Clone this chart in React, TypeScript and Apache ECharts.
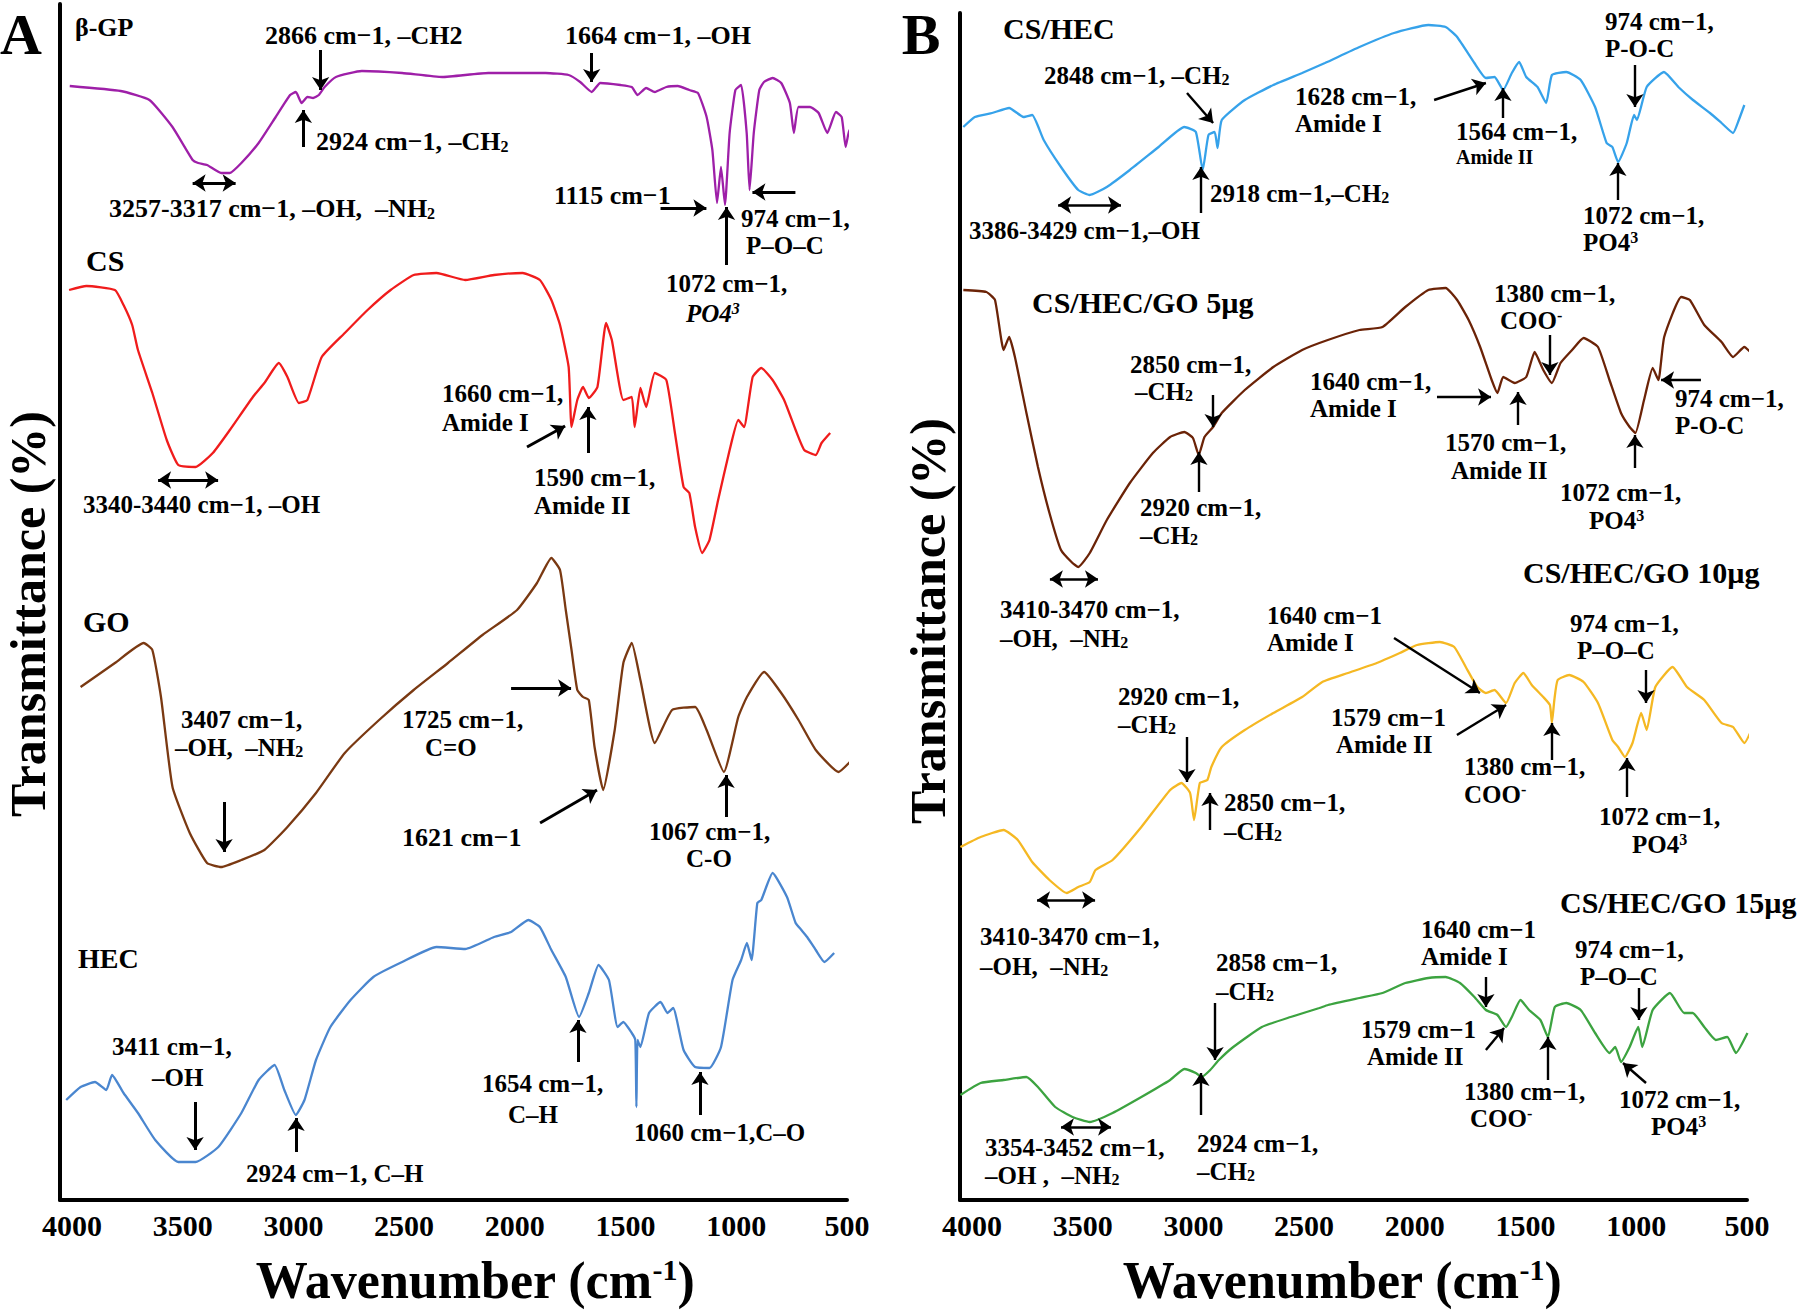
import { useEffect, useRef } from 'react';
import * as echarts from 'echarts';

const SERIF = '"Liberation Serif", "Times New Roman", "DejaVu Serif", serif';

// x: wavenumber (cm-1); y: transmittance in arbitrary offset units (stacked spectra)
const bgpWn = [4010,3780,3650,3546,3455,3430,3390,3326,3287,3235,3157,3080,3015,2989,2963,2937,2911,2885,2859,2808,2691,2509,2328,2120,1861,1757,1705,1653,1614,1523,1472,1446,1407,1368,1316,1264,1212,1173,1134,1108,1087,1069,1051,1030,1004,978,953,940,921,896,875,836,797,758,740,719,667,628,589,550,524,506,490,480,454];
const bgpT = [1114,1109,1100,1073,1040,1037,1035,1027,1027,1037,1057,1083,1105,1108,1097,1103,1102,1105,1113,1123,1129,1127,1123,1127,1127,1125,1118,1108,1117,1115,1113,1105,1112,1108,1113,1114,1110,1107,1083,1050,997,1033,995,1067,1110,1115,1067,1010,1067,1110,1118,1122,1117,1097,1067,1093,1093,1087,1067,1088,1083,1053,1070,1055,1100];

const csWn = [4013,3935,3806,3767,3728,3702,3637,3572,3520,3442,3364,3287,3183,3131,3066,3027,2975,2937,2872,2768,2665,2561,2457,2354,2224,2094,1965,1887,1835,1796,1757,1744,1718,1692,1666,1627,1588,1562,1510,1472,1459,1433,1407,1368,1316,1277,1238,1212,1186,1154,1121,1082,1030,991,965,926,887,836,784,732,693,641,615,576];
const csT = [910,914,910,895,875,850,807,760,735,733,747,770,803,817,837,823,797,800,843,867,890,910,925,927,920,925,927,920,900,875,833,773,800,813,802,813,877,860,800,803,773,812,793,827,820,767,713,707,673,647,660,700,750,780,773,823,832,820,800,770,750,745,757,767];

const goWn = [3961,3806,3676,3637,3598,3546,3468,3390,3326,3235,3131,3027,2898,2768,2613,2457,2302,2146,1990,1900,1835,1796,1770,1744,1718,1692,1666,1640,1601,1549,1510,1472,1433,1368,1290,1186,1134,1056,991,952,874,797,719,641,538,487];
const goT = [513,537,557,550,503,413,367,337,333,340,350,373,407,447,480,510,537,565,590,617,642,630,590,550,510,503,500,453,410,470,537,557,520,457,490,493,470,428,483,503,528,507,480,450,428,438];

const hecWn = [4026,3961,3896,3845,3819,3767,3702,3624,3520,3442,3339,3235,3157,3085,3041,2989,2950,2898,2833,2742,2639,2509,2354,2224,2094,2017,1939,1887,1835,1770,1710,1666,1622,1575,1536,1510,1472,1456,1451,1446,1433,1394,1342,1311,1285,1238,1186,1121,1069,1017,978,952,931,905,887,836,771,732,706,680,641,602,558];
const hecT = [100,113,118,110,125,107,87,60,38,38,53,87,120,135,110,85,100,140,173,200,223,238,253,251,263,268,280,273,250,223,183,207,235,220,173,178,167,160,93,160,153,187,198,187,192,150,133,132,153,220,240,257,240,297,300,327,303,277,270,263,250,238,247];

const cshWn = [4039,3987,3909,3832,3767,3728,3676,3598,3520,3468,3391,3287,3157,3041,2989,2958,2932,2904,2891,2872,2768,2639,2509,2406,2250,2094,1939,1861,1809,1731,1679,1640,1601,1562,1529,1497,1446,1407,1381,1316,1251,1186,1134,1108,1082,1043,1010,997,953,875,810,744,667,615,563,537,512];
const cshT = [1073,1083,1087,1092,1083,1085,1060,1033,1010,1005,1013,1030,1053,1073,1068,1030,1065,1068,1052,1080,1100,1115,1127,1137,1153,1167,1175,1173,1163,1137,1122,1123,1110,1127,1138,1123,1113,1097,1125,1128,1120,1093,1057,1053,1038,1057,1085,1080,1113,1128,1113,1100,1087,1077,1067,1080,1095];

const g5Wn = [4039,3935,3896,3857,3832,3806,3754,3702,3650,3598,3546,3520,3468,3391,3287,3183,3105,3041,3002,2976,2950,2911,2872,2768,2639,2509,2393,2250,2146,2043,1939,1861,1809,1757,1705,1653,1627,1601,1549,1497,1459,1420,1381,1342,1290,1238,1173,1121,1069,1030,1004,965,926,900,874,797,758,693,615,563,512,461,422];
const g5T = [910,908,900,850,863,843,787,733,687,650,637,633,647,680,717,747,763,768,762,745,763,773,787,810,833,850,860,870,873,893,910,912,900,880,853,820,807,823,817,823,848,830,817,837,850,862,853,820,787,773,767,800,832,820,863,903,900,875,858,843,853,843,873];

const g10Wn = [4052,3961,3857,3793,3728,3650,3572,3520,3468,3442,3365,3235,3105,3054,3015,2997,2971,2937,2919,2872,2768,2639,2509,2418,2302,2172,2068,1990,1887,1822,1770,1718,1679,1640,1588,1549,1510,1472,1420,1390,1381,1370,1355,1303,1238,1173,1108,1082,1051,1017,978,953,914,836,771,693,615,563,512,461];
const g10T = [353,363,370,360,338,320,307,313,318,330,340,373,410,417,407,380,417,420,433,453,470,487,503,518,527,537,547,555,558,553,533,513,507,510,497,517,527,515,503,495,477,500,520,525,518,497,460,453,443,457,487,470,513,533,513,500,477,473,457,480];

const g15Wn = [4052,3961,3857,3754,3702,3624,3546,3468,3365,3235,3105,3041,2989,2963,2924,2885,2820,2691,2561,2431,2392,2250,2146,2043,1939,1861,1796,1731,1679,1627,1588,1562,1523,1484,1433,1399,1368,1316,1251,1186,1121,1095,1069,1030,991,973,926,848,784,745,693,641,589,550,498];
const g15T = [105,117,120,123,113,93,83,78,87,103,120,131,127,123,130,140,153,173,183,192,195,202,207,217,222,223,217,203,190,185,173,183,200,190,180,163,193,197,190,167,147,153,138,153,173,153,190,207,187,187,173,160,163,147,167];

const wnTicks = [4000, 3500, 3000, 2500, 2000, 1500, 1000, 500];

// annotation arrows [wn1, t1, wn2, t2] in data units
const arrowsA = [
  [2877,1150,2877,1110],[1653,1147,1653,1118],[2955,1053,2955,1090],
  [1342,992,1135,992],[733,1008,927,1008],[1044,935,1044,993],
  [1945,753,1773,774],[1670,747,1670,793],
  [3313,398,3313,348],[2017,512,1746,512],[1886,377,1629,410],[1046,383,1046,425],
  [3444,98,3444,50],[2988,48,2988,82],[1715,138,1715,180],[1164,85,1164,128],
];
const doubleA = [[3455,1017,3261,1017],[3611,720,3340,720]];
const arrowsB = [
  [3029,1107,2911,1077],[2966,987,2966,1033],[1913,1100,1679,1117],[1602,1082,1602,1112],
  [1006,1135,1006,1093],[1083,1000,1083,1037],
  [2911,805,2911,773],[2975,708,2975,748],[1900,803,1656,803],[1534,775,1534,808],
  [1390,865,1390,825],[1006,732,1006,765],[708,820,888,820],
  [2094,562,1706,507],[1810,465,1588,495],[3029,463,3029,418],[2925,370,2925,407],
  [1381,440,1381,477],[956,530,956,497],[1042,403,1042,442],
  [2902,197,2902,140],[2966,85,2966,127],[1679,223,1679,193],[1679,150,1597,172],
  [1399,120,1399,163],[988,212,988,180],[956,117,1060,137],
];
const doubleB = [[3611,995,3327,995],[3648,621,3431,621],[3706,300,3444,300],[3598,73,3372,73]];

// text annotations: [x, y, text, fontSize]
const notesA: [number, number, string, number][] = [
  [75, 27, 'β-GP', 26],
  [265, 35, '2866 cm−1, –CH2', 26],
  [565, 35, '1664 cm−1, –OH', 26],
  [316, 141, '2924 cm−1, –CH{sub|2}', 26],
  [109, 208, '3257-3317 cm−1, –OH,  –NH{sub|2}', 26],
  [554, 195, '1115 cm−1', 26],
  [741, 218, '974 cm−1,', 25],
  [746, 245, 'P–O–C', 25],
  [666, 283, '1072 cm−1,', 25],
  [686, 313, '{it|PO4}{itsup|3}', 25],
  [86, 260, 'CS', 30],
  [83, 504, '3340-3440 cm−1, –OH', 25],
  [442, 393, '1660 cm−1,', 25],
  [442, 422, 'Amide I', 25],
  [534, 477, '1590 cm−1,', 25],
  [534, 505, 'Amide II', 25],
  [83, 621, 'GO', 30],
  [181, 719, '3407 cm−1,', 25],
  [175, 747, '–OH,  –NH{sub|2}', 25],
  [402, 719, '1725 cm−1,', 25],
  [425, 747, 'C=O', 25],
  [402, 837, '1621 cm−1', 26],
  [649, 831, '1067 cm−1,', 25],
  [686, 858, 'C-O', 25],
  [78, 958, 'HEC', 28],
  [112, 1046, '3411 cm−1,', 25],
  [152, 1077, '–OH', 25],
  [246, 1173, '2924 cm−1, C–H', 25],
  [482, 1083, '1654 cm−1,', 25],
  [508, 1114, 'C–H', 25],
  [634, 1132, '1060 cm−1,C–O', 25],
];
const notesB: [number, number, string, number][] = [
  [1003, 28, 'CS/HEC', 30],
  [1044, 75, '2848 cm−1, –CH{sub|2}', 25],
  [1210, 193, '2918 cm−1,–CH{sub|2}', 25],
  [969, 230, '3386-3429 cm−1,–OH', 25],
  [1295, 96, '1628 cm−1,', 25],
  [1295, 123, 'Amide I', 25],
  [1456, 131, '1564 cm−1,', 25],
  [1456, 157, 'Amide II', 20],
  [1605, 21, '974 cm−1,', 25],
  [1605, 48, 'P-O-C', 25],
  [1583, 215, '1072 cm−1,', 25],
  [1583, 242, 'PO4{sup|3}', 25],
  [1032, 302, 'CS/HEC/GO 5µg', 30],
  [1494, 293, '1380 cm−1,', 25],
  [1500, 320, 'COO{sup|-}', 25],
  [1130, 364, '2850 cm−1,', 25],
  [1135, 391, '–CH{sub|2}', 25],
  [1140, 507, '2920 cm−1,', 25],
  [1140, 535, '–CH{sub|2}', 25],
  [1310, 381, '1640 cm−1,', 25],
  [1310, 408, 'Amide I', 25],
  [1445, 442, '1570 cm−1,', 25],
  [1451, 470, 'Amide II', 25],
  [1560, 492, '1072 cm−1,', 25],
  [1589, 520, 'PO4{sup|3}', 25],
  [1675, 398, '974 cm−1,', 25],
  [1675, 425, 'P-O-C', 25],
  [1523, 572, 'CS/HEC/GO 10µg', 30],
  [1000, 609, '3410-3470 cm−1,', 25],
  [1000, 638, '–OH,  –NH{sub|2}', 25],
  [1267, 615, '1640 cm−1', 25],
  [1267, 642, 'Amide I', 25],
  [1331, 717, '1579 cm−1', 25],
  [1336, 744, 'Amide II', 25],
  [1118, 696, '2920 cm−1,', 25],
  [1118, 724, '–CH{sub|2}', 25],
  [1224, 802, '2850 cm−1,', 25],
  [1224, 831, '–CH{sub|2}', 25],
  [1464, 766, '1380 cm−1,', 25],
  [1464, 794, 'COO{sup|-}', 25],
  [1570, 623, '974 cm−1,', 25],
  [1577, 650, 'P–O–C', 25],
  [1599, 816, '1072 cm−1,', 25],
  [1632, 844, 'PO4{sup|3}', 25],
  [980, 936, '3410-3470 cm−1,', 25],
  [980, 966, '–OH,  –NH{sub|2}', 25],
  [1560, 902, 'CS/HEC/GO 15µg', 30],
  [1216, 962, '2858 cm−1,', 25],
  [1216, 991, '–CH{sub|2}', 25],
  [1197, 1143, '2924 cm−1,', 25],
  [1197, 1171, '–CH{sub|2}', 25],
  [985, 1147, '3354-3452 cm−1,', 25],
  [985, 1175, '–OH ,  –NH{sub|2}', 25],
  [1421, 929, '1640 cm−1', 25],
  [1421, 956, 'Amide I', 25],
  [1361, 1029, '1579 cm−1', 25],
  [1367, 1056, 'Amide II', 25],
  [1464, 1091, '1380 cm−1,', 25],
  [1470, 1118, 'COO{sup|-}', 25],
  [1575, 949, '974 cm−1,', 25],
  [1580, 976, 'P–O–C', 25],
  [1619, 1099, '1072 cm−1,', 25],
  [1651, 1126, 'PO4{sup|3}', 25],
];

function richFor(size: number) {
  const small = Math.round(size * 0.62);
  const base = { fontFamily: SERIF, fontWeight: 'bold', fill: '#000' };
  return {
    sub: { ...base, fontSize: small, verticalAlign: 'bottom' },
    sup: { ...base, fontSize: small, verticalAlign: 'top' },
    it: { ...base, fontSize: size, fontStyle: 'italic' },
    itsup: { ...base, fontSize: small, fontStyle: 'italic', verticalAlign: 'top' },
  };
}

function note(x: number, y: number, text: string, size: number) {
  return {
    type: 'text', x, y, silent: true, z: 20,
    style: {
      text, fontSize: size, fontFamily: SERIF, fontWeight: 'bold', fill: '#000',
      align: 'left', verticalAlign: 'middle', rich: richFor(size),
    },
  };
}

const pairs = (wn: number[], t: number[]) => wn.map((w, i) => [w, t[i]]);
const toLines = (arr: number[][]) => arr.map(([a, b, c, d]) => [{ coord: [a, b] }, { coord: [c, d] }]);

function curve(name: string, wn: number[], t: number[], color: string, g: number, extra: any = {}) {
  return {
    type: 'line', name, xAxisIndex: g, yAxisIndex: g, data: pairs(wn, t),
    showSymbol: false, symbol: 'none', smooth: 0.15, clip: false, silent: true,
    lineStyle: { color, width: 2.3 }, itemStyle: { color }, emphasis: { disabled: true },
    ...extra,
  };
}

function arrowMark(arr: number[][], both: boolean, width: number) {
  return {
    silent: true, animation: false,
    symbol: both ? ['arrow', 'arrow'] : ['none', 'arrow'],
    symbolSize: 13,
    lineStyle: { color: '#000', width, type: 'solid' },
    label: { show: false }, emphasis: { disabled: true },
    data: toLines(arr),
  };
}

function xAx(g: number) {
  return {
    type: 'value', gridIndex: g, min: 500, max: 4054, interval: 500, inverse: true,
    axisLine: { show: true, onZero: false, lineStyle: { color: '#000', width: 4 } },
    axisTick: { show: false }, splitLine: { show: false },
    axisLabel: {
      color: '#000', fontSize: 30, fontWeight: 'bold', fontFamily: SERIF, margin: 10,
      showMaxLabel: false, showMinLabel: true,
      formatter: (v: number) => (wnTicks.includes(v) ? String(v) : ''),
    },
  };
}
function yAx(g: number, max: number) {
  return {
    type: 'value', gridIndex: g, min: 0, max,
    axisLine: { show: true, onZero: false, lineStyle: { color: '#000', width: 4 } },
    axisTick: { show: false }, splitLine: { show: false }, axisLabel: { show: false },
  };
}

const bigText = (x: number, y: number, text: string, size: number, extra: any = {}) => ({
  type: 'text', x, y, silent: true, z: 20, ...extra,
  style: {
    text, fontSize: size, fontWeight: 'bold', fontFamily: SERIF, fill: '#000',
    align: extra.align || 'center', verticalAlign: 'middle',
    rich: { sup: { fontSize: 30, fontWeight: 'bold', fontFamily: SERIF, fill: '#000', verticalAlign: 'top' } },
  },
});

const option: any = {
  animation: false,
  backgroundColor: '#fff',
  grid: [
    { left: 60, top: 4, width: 787, height: 1196, containLabel: false, outerBoundsMode: 'none' },
    { left: 960, top: 13, width: 787, height: 1187, containLabel: false, outerBoundsMode: 'none' },
  ],
  xAxis: [xAx(0), xAx(1)],
  yAxis: [yAx(0, 1196), yAx(1, 1187)],
  series: [
    curve('β-GP', bgpWn, bgpT, '#9e1fa8', 0, { markLine: arrowMark(arrowsA, false, 3) }),
    curve('CS', csWn, csT, '#f01c1c', 0, { markLine: arrowMark(doubleA, true, 3) }),
    curve('GO', goWn, goT, '#7a3912', 0),
    curve('HEC', hecWn, hecT, '#4a86cf', 0),
    curve('CS/HEC', cshWn, cshT, '#36a2ea', 1, { markLine: arrowMark(arrowsB, false, 2.4) }),
    curve('CS/HEC/GO 5µg', g5Wn, g5T, '#6b2307', 1, { markLine: arrowMark(doubleB, true, 2.6) }),
    curve('CS/HEC/GO 10µg', g10Wn, g10T, '#f5b823', 1),
    curve('CS/HEC/GO 15µg', g15Wn, g15T, '#3ca340', 1),
  ],
  graphic: [
    bigText(21, 34, 'A', 58),
    bigText(921, 34, 'B', 58),
    bigText(28, 614, 'Transmittance (%)', 50, { rotation: Math.PI / 2 }),
    bigText(928, 621, 'Transmittance (%)', 50, { rotation: Math.PI / 2 }),
    bigText(475, 1280, 'Wavenumber (cm{sup|-1})', 52),
    bigText(1342, 1280, 'Wavenumber (cm{sup|-1})', 52),
    ...notesA.map(([x, y, t, s]) => note(x, y, t, s)),
    ...notesB.map(([x, y, t, s]) => note(x, y, t, s)),
  ],
};

export default function App() {
  const ref = useRef<HTMLDivElement>(null);
  useEffect(() => {
    document.body.style.margin = '0';
    const chart = echarts.init(ref.current!, null, { renderer: 'svg' });
    chart.setOption(option);
    return () => chart.dispose();
  }, []);
  return <div ref={ref} style={{ width: 1800, height: 1312, background: '#fff' }} />;
}
